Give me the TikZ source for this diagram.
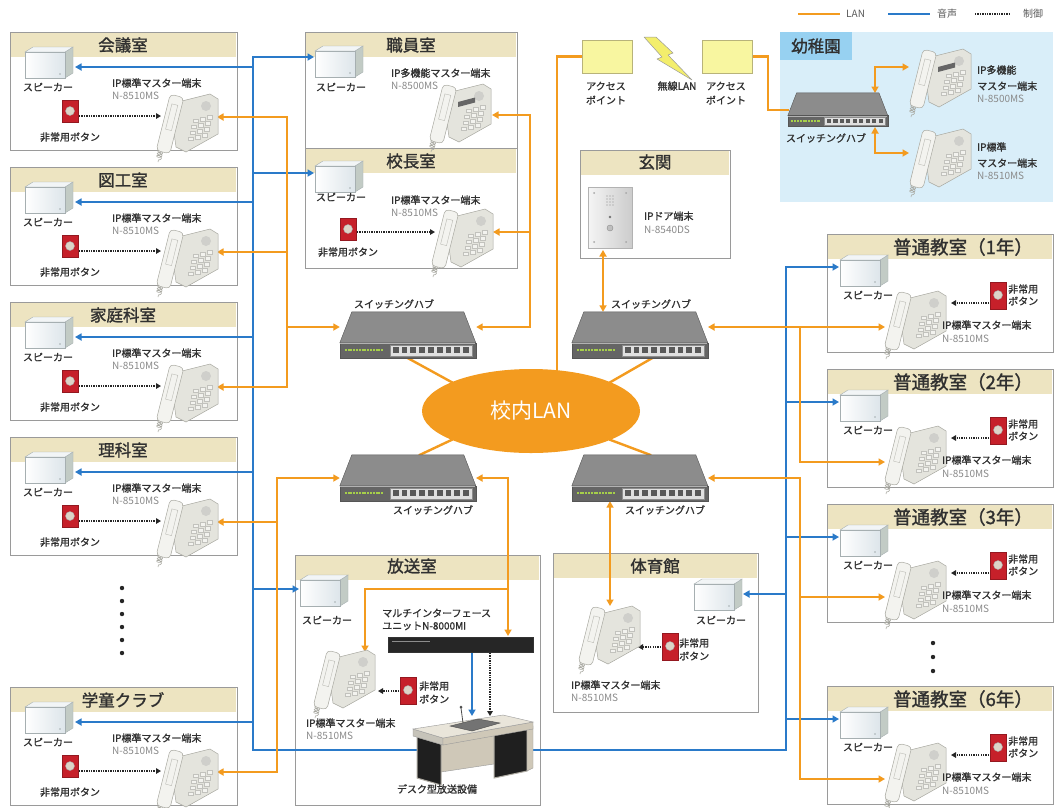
\documentclass[tikz,border=0pt]{standalone}
\usepackage{fontspec}
\newfontfamily\jp{Noto Sans CJK JP}
\newfontfamily\jpb{Noto Sans CJK JP}[FakeBold=1.4]
\usetikzlibrary{arrows.meta,shapes.geometric,decorations.pathmorphing}

% colours
\definecolor{lanor}{HTML}{F39B1F}
\definecolor{audbl}{HTML}{2A7AC9}
\definecolor{bandc}{HTML}{EDE4C1}
\definecolor{frameg}{HTML}{9A9A9A}
\definecolor{kidbg}{HTML}{D9EEF9}
\definecolor{kidtab}{HTML}{97D1F1}
\definecolor{spkfront}{HTML}{DDE5EA}
\definecolor{spktop}{HTML}{F2F5F6}
\definecolor{spkside}{HTML}{C2CBC5}
\definecolor{spkedge}{HTML}{A6AFB1}
\definecolor{phbody}{HTML}{E4E4DD}
\definecolor{phlight}{HTML}{F3F3EF}
\definecolor{phedge}{HTML}{A8A8A0}
\definecolor{btnred}{HTML}{C6202A}
\definecolor{btncap}{HTML}{DDD4C7}
\definecolor{hubtop}{HTML}{8C8C8C}
\definecolor{hubfront}{HTML}{656565}
\definecolor{hubedge}{HTML}{555555}
\definecolor{hubled}{HTML}{A6CF4A}
\definecolor{apyel}{HTML}{F8F6A0}
\definecolor{apedge}{HTML}{B8B37A}
\definecolor{boltc}{HTML}{F3EE6C}
\definecolor{txtg}{HTML}{8A8A8A}
\definecolor{txtd}{HTML}{303030}
\definecolor{deskc}{HTML}{E9E5DA}
\definecolor{desks}{HTML}{CFC8B8}

\pgfdeclarelayer{frames}
\pgfdeclarelayer{wires}
\pgfsetlayers{frames,wires,main}

\tikzset{
  lan/.style={draw=lanor, line width=2.4pt, line cap=rect},
  aud/.style={draw=audbl, line width=2.4pt, line cap=rect},
  ctl/.style={draw=black!85, line width=1.3pt, dash pattern=on 1.3pt off 1.1pt},
  arr/.style={-{Triangle[length=6.5pt,width=7pt]}},
  arrr/.style={{Triangle[length=6.5pt,width=7pt]}-{Triangle[length=6.5pt,width=7pt]}},
  carr/.style={-{Triangle[length=5pt,width=5.5pt]}},
  rtitle/.style={font=\jpb\fontsize{16.5}{17}\selectfont, text=txtd, inner sep=0pt},
  ctitle/.style={font=\jpb\fontsize{18.5}{19}\selectfont, text=txtd, inner sep=0pt},
  lbl/.style={font=\jpb\fontsize{10}{11}\selectfont, text=txtd, inner sep=0pt},
  lblw/.style={lbl, anchor=west},
  model/.style={font=\jp\fontsize{10}{11}\selectfont, text=txtg, inner sep=0pt, anchor=west},
  legend/.style={font=\jp\fontsize{10}{10}\selectfont, text=black!65, inner sep=0pt, anchor=west},
  hubbox/.style={minimum width=136pt, minimum height=46pt, inner sep=0pt},
  apbox/.style={draw=apedge, fill=apyel, line width=0.8pt, minimum width=50pt, minimum height=33pt, inner sep=0pt},
  % wall speaker, 48 x 32
  speaker/.pic={
    \filldraw[fill=spkside, draw=spkedge, line width=0.4pt] (40,6) -- (48,1) -- (48,27) -- (40,32) -- cycle;
    \filldraw[fill=spktop, draw=spkedge, line width=0.4pt] (0,6) -- (8,1) -- (48,1) -- (40,6) -- cycle;
    \shadedraw[left color=white, right color=spkfront, draw=spkedge, line width=0.4pt] (0,6) rectangle (40,32);
    \fill[spkedge] (35,28) circle[radius=0.8pt];
  },
  % desk telephone, about 68 x 72
  phone/.pic={
    \draw[phedge, line width=0.6pt, decorate, decoration={coil, aspect=0.6, segment length=2.6pt, amplitude=2.6pt}] (11,58) -- (8,72);
    \filldraw[fill=phbody, draw=phedge, line width=0.5pt] (20,14) -- (60,4) -- (68,9) -- (68,44) -- (36,62) -- (26,57) -- cycle;
    \fill[phedge!55] (56,16) circle[radius=5pt];
    \foreach \r in {0,...,3} \foreach \c in {0,1,2}
      \filldraw[fill=phlight, draw=phedge!70, line width=0.3pt] ({43+\c*7-\r*1.5},{29+\r*6-\c*1.8}) rectangle +(5,3.5);
    \filldraw[fill=phlight, draw=phedge, line width=0.5pt, rounded corners=4pt] (20.2,4.2) -- (33.8,7.6) -- (19.8,63.8) -- (6.2,60.4) -- cycle;
    \draw[phedge!80, line width=0.4pt] (21.9,13.9) -- (27.8,15.3) -- (21.5,40.6) -- (15.6,39.1) -- cycle;
  },
  phonedisp/.pic={
    \pic {phone};
    \fill[black!60] (35,22) -- (52,17.5) -- (52,22.5) -- (35,27) -- cycle;
  },
  % emergency button
  ebutton/.pic={
    \filldraw[fill=btnred, draw=btnred!75!black, line width=0.4pt] (0,0) rectangle (16,22);
    \filldraw[fill=btncap, draw=black!35, line width=0.4pt] (8,11) circle[radius=4.5pt];
  },
  ebuttont/.pic={
    \filldraw[fill=btnred, draw=btnred!75!black, line width=0.4pt] (0,0) rectangle (16,27);
    \filldraw[fill=btncap, draw=black!35, line width=0.4pt] (8,13) circle[radius=4.5pt];
  },
  % switching hub, 136 x 46
  hub/.pic={
    \filldraw[fill=hubtop, draw=hubedge, line width=0.4pt] (12,0) -- (124,0) -- (136,31) -- (0,31) -- cycle;
    \filldraw[fill=hubfront, draw=hubedge, line width=0.4pt] (0,31) rectangle (136,46);
    \draw[black!30, line width=0.8pt] (0.5,31.5) -- (135.5,31.5);
    \draw[hubled, line width=2.2pt, dash pattern=on 2pt off 0.8pt] (5,38) -- (44,38);
    \filldraw[fill=black!12, draw=black!45, line width=0.4pt] (50,33) rectangle (132,44);
    \foreach \i in {0,...,8} \fill[black!65] ({53+\i*8.8},35.5) rectangle +(5.8,5.5);
  }
}

% room outline with its title band
\newcommand\roomframe[4]{%
  \begin{pgfonlayer}{frames}
    \filldraw[fill=white, draw=frameg, line width=0.9pt] (#1,#2) rectangle (#3,#4);
    \fill[bandc] ({#1+0.6},{#2+0.6}) rectangle ({#3-0.6},{#2+25});
  \end{pgfonlayer}}

% classroom of the left column: id, top, title
\newcommand\leftroom[3]{%
  \roomframe{10}{#2}{237}{#2+118}
  \node[rtitle] (#1-t) at (123,{#2+13}) {#3};
  \pic at (25,{#2+14}) {speaker};
  \node[lbl] (#1-sl) at (48,{#2+55}) {スピーカー};
  \pic at (62,{#2+68}) {ebutton};
  \node[lbl] (#1-bl) at (70,{#2+105}) {非常用ボタン};
  \pic at (150,{#2+58}) {phone};
  \node[lblw] (#1-pn) at (112,{#2+51}) {IP標準マスター端末};
  \node[model] (#1-pm) at (112,{#2+64}) {N-8510MS};
  \coordinate (#1-sp) at (75,{#2+35});
  \coordinate (#1-bt) at (79,{#2+84});
  \coordinate (#1-pc) at (161,{#2+84});
  \coordinate (#1-ph) at (217,{#2+85});
  \begin{pgfonlayer}{wires}\draw[ctl,carr] (#1-bt) -- (#1-pc);\end{pgfonlayer}
}

% classroom of the right column: id, top, title
\newcommand\rightroom[3]{%
  \roomframe{827}{#2}{1053}{#2+118}
  \node[ctitle] (#1-t) at (963,{#2+13}) {#3};
  \pic at (840,{#2+20}) {speaker};
  \node[lbl] (#1-sl) at (868,{#2+61}) {スピーカー};
  \pic at (878,{#2+53}) {phone};
  \pic at (990,{#2+48}) {ebuttont};
  \node[lblw] (#1-b1) at (1008,{#2+55}) {非常用};
  \node[lblw] (#1-b2) at (1008,{#2+67}) {ボタン};
  \node[lblw] (#1-pn) at (942,{#2+91}) {IP標準マスター端末};
  \node[model] (#1-pm) at (942,{#2+105}) {N-8510MS};
  \coordinate (#1-sp) at (839,{#2+33});
  \coordinate (#1-ph) at (885,{#2+93});
  \coordinate (#1-bt) at (989,{#2+69});
  \coordinate (#1-pc) at (951,{#2+69});
  \begin{pgfonlayer}{wires}\draw[ctl,carr] (#1-bt) -- (#1-pc);\end{pgfonlayer}
}

\begin{document}
\begin{tikzpicture}[x=1pt, y=-1pt]
\useasboundingbox (0,0) rectangle (1056,807);
\begin{pgfonlayer}{frames}
  \fill[white] (0,0) rectangle (1056,807);
  \fill[kidbg] (780,32) rectangle (1053,202);
  \fill[kidtab] (780,32) rectangle (852,60);
\end{pgfonlayer}

% ---------- legend ----------
\coordinate (lg1) at (798,14); \coordinate (lg2) at (840,14);
\draw[lan, line cap=butt] (lg1) -- (lg2);
\node[legend] (lgl) at (846,14) {LAN};
\coordinate (lg3) at (888,14); \coordinate (lg4) at (930,14);
\draw[aud, line cap=butt] (lg3) -- (lg4);
\node[legend] (lga) at (937,14) {音声};
\coordinate (lg5) at (975,14); \coordinate (lg6) at (1010,14);
\draw[ctl] (lg5) -- (lg6);
\node[legend] (lgc) at (1023,14) {制御};

% ---------- left column ----------
\leftroom{kaigi}{32}{会議室}
\leftroom{zuko}{167}{図工室}
\leftroom{katei}{302}{家庭科室}
\leftroom{rika}{437}{理科室}
\leftroom{gakudo}{687}{学童クラブ}
\foreach \yy in {588,601,...,653} \fill[black!85] (122,\yy) circle[radius=2.2pt];

% ---------- right column ----------
\rightroom{nen1}{234}{普通教室（1年）}
\rightroom{nen2}{369}{普通教室（2年）}
\rightroom{nen3}{504}{普通教室（3年）}
\rightroom{nen6}{686}{普通教室（6年）}
\foreach \yy in {643,657,671} \fill[black!85] (933,\yy) circle[radius=2.2pt];

% ---------- staff room and principal's office ----------
\roomframe{305}{32}{517}{148}
\node[rtitle] (shok-t) at (411,45) {職員室};
\pic at (315,45) {speaker};
\node[lbl] (shok-sl) at (341,87) {スピーカー};
\node[lblw] (shok-pn) at (391,73) {IP多機能マスター端末};
\node[model] (shok-pm) at (391,86) {N-8500MS};
\pic at (423,80) {phonedisp};
\coordinate (shok-sp) at (314,57);
\coordinate (shok-ph) at (492,115);

\roomframe{305}{148}{517}{268}
\node[rtitle] (koch-t) at (411,161) {校長室};
\pic at (315,160) {speaker};
\node[lbl] (koch-sl) at (341,197) {スピーカー};
\node[lblw] (koch-pn) at (391,200) {IP標準マスター端末};
\node[model] (koch-pm) at (391,213) {N-8510MS};
\pic at (340,218) {ebutton};
\node[lbl] (koch-bl) at (348,252) {非常用ボタン};
\pic at (425,205) {phone};
\coordinate (koch-sp) at (314,173);
\coordinate (koch-ph) at (493,232);
\coordinate (koch-bt) at (357,232);
\coordinate (koch-pc) at (435,232);

% ---------- entrance ----------
\roomframe{580}{150}{730}{258}
\node[rtitle] (gen-t) at (655,162) {玄関};
\shadedraw[left color=black!4, right color=black!20, draw=black!30, line width=0.5pt] (588,187) rectangle (632,248);
\foreach \px/\py in {594/193,626/193,594/242,626/242} \fill[black!35] (\px,\py) circle[radius=1pt];
\foreach \py in {196,199,202,205} \fill[black!45] (607,\py) circle[radius=0.7pt] (610,\py) circle[radius=0.7pt] (613,\py) circle[radius=0.7pt];
\fill[black!55] (610,217) circle[radius=1.3pt];
\filldraw[fill=black!25, draw=black!45] (610,228) circle[radius=3pt];
\node[lblw] (door-n) at (644,216) {IPドア端末};
\node[model] (door-m) at (644,230) {N-8540DS};
\coordinate (door-b) at (603,250);

% ---------- kindergarten ----------
\node[rtitle] (kid-t) at (816,46) {幼稚園};
\node[hubbox, minimum width=100pt, minimum height=34pt] (kidhub) at (838,110) {};
\pic[scale=0.735] at (kidhub.north west) {hub};
\node[lbl] (kidhub-l) at (826,138) {スイッチングハブ};
\pic at (903,45) {phonedisp};
\node[lblw] (kid1-a) at (977,70) {IP多機能};
\node[lblw] (kid1-b) at (977,86) {マスター端末};
\node[model] (kid1-c) at (977,99) {N-8500MS};
\pic at (903,125) {phone};
\node[lblw] (kid2-a) at (977,147) {IP標準};
\node[lblw] (kid2-b) at (977,163) {マスター端末};
\node[model] (kid2-c) at (977,176) {N-8510MS};
\coordinate (kh1) at (875,93);  \coordinate (kh2) at (875,67);  \coordinate (kp1) at (909,67);
\coordinate (kh3) at (875,127); \coordinate (kh4) at (875,153); \coordinate (kp2) at (909,153);

% ---------- access points ----------
\node[apbox] (ap1) at (607,56.5) {};
\node[apbox] (ap2) at (727,56.5) {};
\node[lbl] (ap1-a) at (606,86) {アクセス};
\node[lbl] (ap1-b) at (606,100) {ポイント};
\node[lbl] (ap2-a) at (726,86) {アクセス};
\node[lbl] (ap2-b) at (726,100) {ポイント};
\node[lbl] (wl) at (677,86) {無線LAN};
\filldraw[fill=boltc, draw=black!40, line width=0.5pt, line join=round]
  (644,37) -- (656,37) -- (673,53) -- (668,55) -- (692,80) -- (657,59) -- (662,57) -- cycle;

% ---------- school LAN and hubs ----------
\node[ellipse, fill=lanor, minimum width=218pt, minimum height=84pt, inner sep=0pt, text=white,
      font=\jp\fontsize{21}{22}\selectfont] (lan) at (531,411) {校内LAN};
\node[hubbox] (hubUL) at (408,335) {};
\node[hubbox] (hubUR) at (640,335) {};
\node[hubbox] (hubLL) at (408,478) {};
\node[hubbox] (hubLR) at (640,478) {};
\pic at (hubUL.north west) {hub};
\pic at (hubUR.north west) {hub};
\pic at (hubLL.north west) {hub};
\pic at (hubLR.north west) {hub};
\node[lbl] (hubUL-l) at (394,304) {スイッチングハブ};
\node[lbl] (hubUR-l) at (651,304) {スイッチングハブ};
\node[lbl] (hubLL-l) at (433,510) {スイッチングハブ};
\node[lbl] (hubLR-l) at (665,510) {スイッチングハブ};

% ---------- broadcasting room ----------
\roomframe{295}{555}{540}{805}
\node[rtitle] (hoso-t) at (412,566) {放送室};
\pic at (300,574) {speaker};
\node[lbl] (hoso-sl) at (327,620) {スピーカー};
\node[lblw] (unit-a) at (382,613) {マルチインターフェース};
\node[lblw] (unit-b) at (382,626) {ユニットN-8000MI};
\node[draw=black!80, fill=black!85, minimum width=145pt, minimum height=15pt, inner sep=0pt] (unit) at (460.5,644.5) {};
\draw[black!45, line width=0.6pt] (392,641) -- (430,641);
\pic at (307,646) {phone};
\pic at (400,677) {ebuttont};
\node[lblw] (hoso-b1) at (419,686) {非常用};
\node[lblw] (hoso-b2) at (419,699) {ボタン};
\node[lblw] (hoso-pn) at (306,723) {IP標準マスター端末};
\node[model] (hoso-pm) at (306,736) {N-8510MS};
\coordinate (hoso-sp) at (299,589);
\coordinate (hoso-ph) at (365,652);
\coordinate (hoso-bt) at (399,691);
\coordinate (hoso-pc) at (378,691);
\coordinate (unit-in) at (508,636);
\coordinate (unit-a1) at (472,653);
\coordinate (unit-c1) at (490,653);
\coordinate (desk-a) at (472,716);
\coordinate (desk-c) at (490,716);
% broadcast desk
\filldraw[fill=desks, draw=black!40, line width=0.4pt] (441,741) -- (494,732) -- (494,764) -- (441,772) -- cycle;
\filldraw[fill=black!88, draw=deskc!75!black, line width=1pt] (417,737) -- (441,744) -- (441,785) -- (417,778) -- cycle;
\filldraw[fill=black!88, draw=deskc!75!black, line width=1pt] (494,734) -- (527,728) -- (527,771) -- (494,778) -- cycle;
\filldraw[fill=desks, draw=black!40, line width=0.4pt] (527,728) -- (533,726) -- (533,768) -- (527,771) -- cycle;
\filldraw[fill=deskc!85!black, draw=black!40, line width=0.4pt] (413,729) -- (443,738) -- (443,745) -- (413,736) -- cycle;
\filldraw[fill=desks, draw=black!40, line width=0.4pt] (443,738) -- (533,722) -- (533,729) -- (443,745) -- cycle;
\filldraw[fill=deskc, draw=black!40, line width=0.4pt] (413,729) -- (503,715) -- (533,722) -- (443,738) -- cycle;
\filldraw[fill=black!55, draw=black!70, line width=0.4pt] (450,726) -- (478,719) -- (500,723) -- (472,731) -- cycle;
\draw[black!70, line width=0.8pt] (463,723) -- (461,708);
\fill[black!70] (461,707) circle[radius=1.5pt];
\node[lbl] (desk-l) at (437,789) {デスク型放送設備};

% ---------- gymnasium ----------
\roomframe{553}{553}{758}{712}
\node[rtitle] (tai-t) at (655,566) {体育館};
\pic at (694,578) {speaker};
\node[lbl] (tai-sl) at (721,620) {スピーカー};
\pic at (572,602) {phone};
\pic at (662,633) {ebuttont};
\node[lblw] (tai-b1) at (679,643) {非常用};
\node[lblw] (tai-b2) at (679,656) {ボタン};
\node[lblw] (tai-pn) at (571,685) {IP標準マスター端末};
\node[model] (tai-pm) at (571,698) {N-8510MS};
\coordinate (tai-sp) at (743,594);
\coordinate (tai-ph) at (610,606);
\coordinate (tai-bt) at (661,647);
\coordinate (tai-pc) at (638,647);

% ---------- wiring ----------
\begin{pgfonlayer}{wires}
  % control lines
  \draw[ctl,carr] (koch-bt) -- (koch-pc);
  \draw[ctl,carr] (hoso-bt) -- (hoso-pc);
  \draw[ctl,carr] (tai-bt) -- (tai-pc);
  \draw[ctl,carr] (unit-c1) -- (desk-c);

  % audio, left trunk, bottom run and right trunk
  \coordinate (bL0) at (253,57);
  \coordinate (bL8) at (253,750);
  \coordinate (bR0) at (786,267);
  \coordinate (bR8) at (786,750);
  \draw[aud] (bL0) -- (bL8) -- (bR8) -- (bR0);
  \draw[aud,arr] (bL0) -- (shok-sp);
  \draw[aud,arr] (koch-sp -| bL0) -- (koch-sp);
  \foreach \r in {kaigi,zuko,katei,rika,gakudo} \draw[aud,arr] (\r-sp -| bL0) -- (\r-sp);
  \draw[aud,arr] (hoso-sp -| bL0) -- (hoso-sp);
  \foreach \r in {nen1,nen2,nen3,nen6} \draw[aud,arr] (\r-sp -| bR0) -- (\r-sp);
  \draw[aud,arr] (tai-sp -| bR0) -- (tai-sp);
  \draw[aud,arr] (unit-a1) -- (desk-a);

  % LAN, left rooms to upper hub
  \coordinate (oA1) at (287,117);
  \coordinate (oA4) at (287,387);
  \coordinate (oA3) at (287,327);
  \draw[lan] (oA1) -- (oA4);
  \foreach \r in {kaigi,zuko,katei} \draw[lan,arr] (\r-ph -| oA1) -- (\r-ph);
  \draw[lan,arr] (oA3) -- (oA3 -| hubUL.west);
  % LAN, left rooms to lower hub
  \coordinate (oB1) at (277,478);
  \coordinate (oB3) at (277,772);
  \draw[lan] (oB1) -- (oB3);
  \draw[lan,arr] (oB1) -- (oB1 -| hubLL.west);
  \foreach \r in {rika,gakudo} \draw[lan,arr] (\r-ph -| oB1) -- (\r-ph);
  % LAN, staff room and principal's office
  \coordinate (oC1) at (530,115);
  \coordinate (oC3) at (530,327);
  \draw[lan] (oC1) -- (oC3);
  \draw[lan,arr] (oC3) -- (oC3 -| hubUL.east);
  \draw[lan,arr] (oC1) -- (shok-ph);
  \draw[lan,arr] (koch-ph -| oC1) -- (koch-ph);
  % LAN, access points
  \coordinate (apbend) at (557,56.5);
  \coordinate (lanin) at (557,390);
  \draw[lan] (ap1.west) -- (apbend) -- (lanin);
  \coordinate (apk1) at (768,56.5);
  \coordinate (apk2) at (768,110);
  \draw[lan] (ap2.east) -- (apk1) -- (apk2) -- (kidhub.west);
  \draw[lan,arrr] (kh1) -- (kh2) -- (kp1);
  \draw[lan,arrr] (kh3) -- (kh4) -- (kp2);
  % LAN, entrance
  \draw[lan,arrr] (door-b) -- (door-b |- hubUR.north);
  % LAN, right rooms
  \coordinate (oDh) at (708,327);
  \coordinate (oD1) at (800,327);
  \draw[lan,arrr] (oDh) -- (nen1-ph);
  \draw[lan] (oD1) -- (nen2-ph -| oD1);
  \draw[lan,arr] (nen2-ph -| oD1) -- (nen2-ph);
  \coordinate (oEh) at (708,478);
  \coordinate (oE1) at (800,478);
  \draw[lan,arr] (oE1) -- (oEh);
  \draw[lan] (oE1) -- (nen6-ph -| oE1);
  \foreach \r in {nen3,nen6} \draw[lan,arr] (\r-ph -| oE1) -- (\r-ph);
  % LAN, gymnasium
  \draw[lan,arrr] (tai-ph |- hubLR.south) -- (tai-ph);
  % LAN, broadcasting room
  \coordinate (oGh) at (476,478);
  \coordinate (oG1) at (508,478);
  \coordinate (oG2) at (508,589);
  \coordinate (oG3) at (365,589);
  \draw[lan,arr] (oG1) -- (oGh);
  \draw[lan,arr] (oG1) -- (unit-in);
  \draw[lan,arr] (oG2) -- (oG3) -- (hoso-ph);
  % hubs to the school LAN
  \draw[lan] (hubUL.south) -- (lan.160);
  \draw[lan] ([xshift=12pt]hubUR.south) -- (lan.20);
  \draw[lan] ([xshift=12pt]hubLL.north) -- (lan.200);
  \draw[lan] ([xshift=10pt]hubLR.north) -- (lan.340);
\end{pgfonlayer}
\end{tikzpicture}
\end{document}
